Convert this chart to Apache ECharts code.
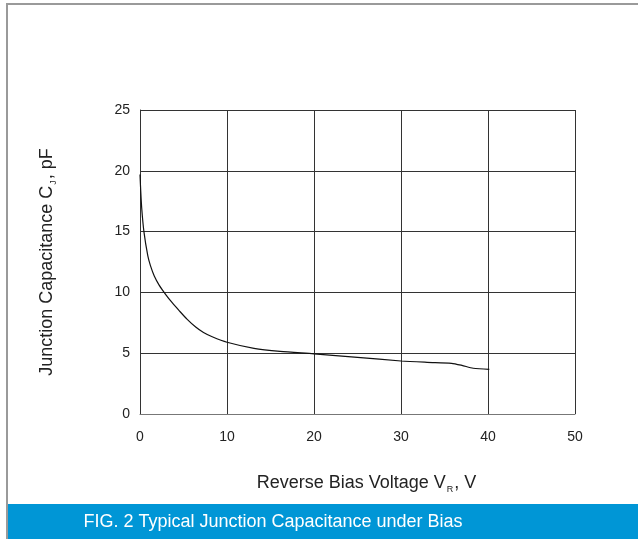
<!DOCTYPE html>
<html><head><meta charset="utf-8">
<script src="https://cdn.jsdelivr.net/npm/echarts@6/dist/echarts.min.js"></script>
<style>html,body{margin:0;padding:0;background:#fff;}#c{width:638px;height:539px;}</style>
</head><body><div id="c"></div>
<script>
const voltage = [0, 0.08, 0.2, 0.45, 0.9, 1.2, 1.64, 2.2, 2.98, 3.7, 4.5, 5.4, 6.4, 7.3, 8.3, 10, 13.1, 16.1, 20, 25, 30, 33, 35.8, 37, 38.3, 40.15];
const capacitance = [19.7, 18.4, 16.9, 15.0, 13.0, 12.2, 11.35, 10.6, 9.8, 9.15, 8.5, 7.8, 7.15, 6.7, 6.35, 5.9, 5.4, 5.15, 4.95, 4.66, 4.36, 4.25, 4.17, 4.0, 3.76, 3.67];
const xTicks = [0, 10, 20, 30, 40, 50];
const yTicks = [0, 5, 10, 15, 20, 25];
const caption = 'FIG. 2 Typical Junction Capacitance under Bias';

const FONT = 'Liberation Sans, Arial, sans-serif';
const chart = echarts.init(document.getElementById('c'), null, {renderer: 'canvas'});
const data = voltage.map((v, i) => [v, capacitance[i]]);
const nameRich = {
  m: {fontSize: 18, color: '#222', fontFamily: FONT, lineHeight: 22, verticalAlign: 'middle'},
  s: {fontSize: 9, color: '#222', fontFamily: FONT, lineHeight: 22, verticalAlign: 'bottom', padding: [7, 1, 0, 1]}
};
chart.setOption({
  animation: false,
  backgroundColor: '#fff',
  grid: {left: 140, right: 63, top: 110, bottom: 125},
  xAxis: {
    type: 'value', min: xTicks[0], max: xTicks[xTicks.length - 1], interval: 10,
    axisLine: {show: true, onZero: false, lineStyle: {color: '#777', width: 1}},
    axisTick: {show: false},
    splitLine: {show: true, lineStyle: {color: '#333', width: 1}},
    axisLabel: {color: '#222', fontSize: 14, fontFamily: FONT, margin: 16},
    name: '{m|Reverse Bias Voltage V}{s|R}{m|, V}',
    nameLocation: 'middle', nameGap: 58,
    nameTextStyle: {padding: [0, 0, 0, 18], rich: nameRich}
  },
  yAxis: {
    type: 'value', min: yTicks[0], max: yTicks[yTicks.length - 1], interval: 5,
    axisLine: {show: true, lineStyle: {color: '#333', width: 1}},
    axisTick: {show: false},
    splitLine: {show: true, lineStyle: {color: '#333', width: 1}},
    axisLabel: {color: '#222', fontSize: 14, fontFamily: FONT, margin: 10},
    name: '{m|Junction Capacitance C}{s|J}{m|, pF}',
    nameLocation: 'middle', nameGap: 82,
    nameTextStyle: {rich: nameRich}
  },
  series: [{
    type: 'line', data: data, smooth: 0.25, showSymbol: false,
    lineStyle: {color: '#111', width: 1.2}
  }],
  graphic: [
    {type: 'rect', shape: {x: 7, y: 4, width: 700, height: 600}, style: {fill: 'none', stroke: '#9a9a9a', lineWidth: 2}, z: 100},
    {type: 'rect', shape: {x: 8, y: 504, width: 640, height: 40}, style: {fill: '#0096d6'}, z: 101},
    {type: 'text', x: 273, y: 522, style: {text: caption, fill: '#fff', fontSize: 18, fontFamily: FONT, textAlign: 'center', textVerticalAlign: 'middle'}, z: 102}
  ]
});
</script></body></html>
